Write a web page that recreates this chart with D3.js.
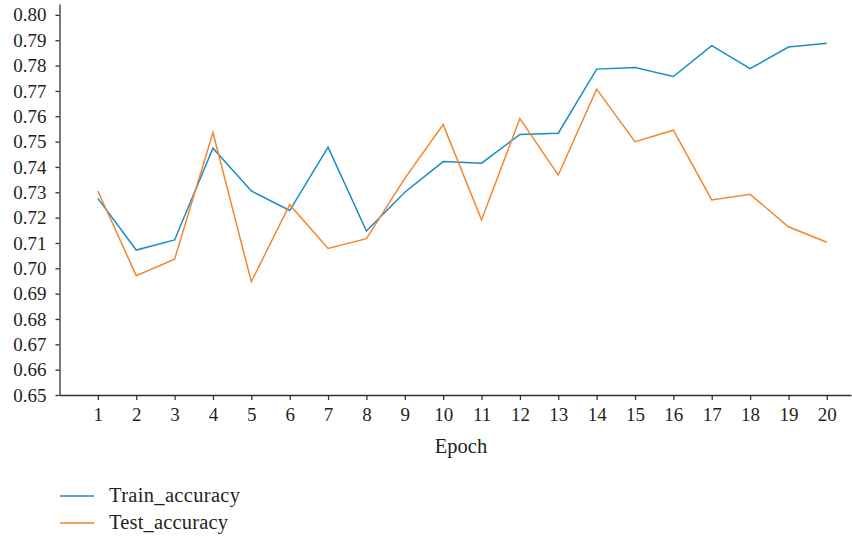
<!DOCTYPE html>
<html>
<head>
<meta charset="utf-8">
<script src="https://cdn.jsdelivr.net/npm/d3@7"></script>
<style>
html,body{margin:0;padding:0;background:#fff;}
svg text{font-family:"Liberation Serif","DejaVu Serif",serif;fill:#231f20;}
</style>
</head>
<body>
<svg id="chart" width="852" height="537"></svg>
<script>
const epochs = [1,2,3,4,5,6,7,8,9,10,11,12,13,14,15,16,17,18,19,20];
const trainAccuracy = [0.7276,0.7072,0.7112,0.7474,0.7305,0.7228,0.7478,0.7147,0.7300,0.7421,0.7415,0.7528,0.7533,0.7786,0.7792,0.7757,0.7879,0.7788,0.7873,0.7888];
const testAccuracy = [0.7305,0.6971,0.7036,0.7536,0.6947,0.7251,0.7078,0.7117,0.7355,0.7567,0.7191,0.7591,0.7368,0.7707,0.7500,0.7545,0.7270,0.7292,0.7164,0.7103];
const yTicks = [0.65,0.66,0.67,0.68,0.69,0.70,0.71,0.72,0.73,0.74,0.75,0.76,0.77,0.78,0.79,0.80];
const seriesNames = ["Train_accuracy","Test_accuracy"];
const seriesColors = ["#1a8cc9","#f5862c"];

const svg = d3.select("#chart");
const x = d3.scaleLinear().domain([0, 20.63]).range([59.5, 851]);
const y = d3.scaleLinear().domain([0.65, 0.8043]).range([395, 4]);

// y axis
const yAxis = svg.append("g").attr("transform","translate(59.5,0)")
  .call(d3.axisLeft(y).tickValues(yTicks).tickFormat(d3.format(".2f")).tickSizeInner(4).tickSizeOuter(0).tickPadding(9));
yAxis.selectAll("text").style("font-size","19px");
yAxis.selectAll("line,path").attr("stroke","#333").attr("stroke-width",1.3);

// x axis
const xAxis = svg.append("g").attr("transform","translate(0,395)")
  .call(d3.axisBottom(x).tickValues(epochs).tickFormat(d3.format("d")).tickSizeInner(5).tickSizeOuter(0).tickPadding(8));
xAxis.selectAll("text").style("font-size","19px");
xAxis.selectAll("line,path").attr("stroke","#333").attr("stroke-width",1.3);

svg.append("text").attr("x", 461).attr("y", 453).attr("text-anchor","middle")
  .style("font-size","20.5px").text("Epoch");

const line = d3.line().x((d,i)=>x(epochs[i])).y(d=>y(d));
[trainAccuracy, testAccuracy].forEach((s,k)=>{
  svg.append("path").datum(s).attr("d", line).attr("fill","none")
    .attr("stroke", seriesColors[k]).attr("stroke-width",1.5).attr("stroke-linejoin","miter");
});

// legend
seriesNames.forEach((n,k)=>{
  const yy = 496 + k*27;
  svg.append("line").attr("x1",60).attr("x2",94).attr("y1",yy).attr("y2",yy)
    .attr("stroke",seriesColors[k]).attr("stroke-width",1.5);
  svg.append("text").attr("x",109).attr("y",yy+6).style("font-size","20.5px").attr("textLength", k===0?131:119).text(n);
});
</script>
</body>
</html>
